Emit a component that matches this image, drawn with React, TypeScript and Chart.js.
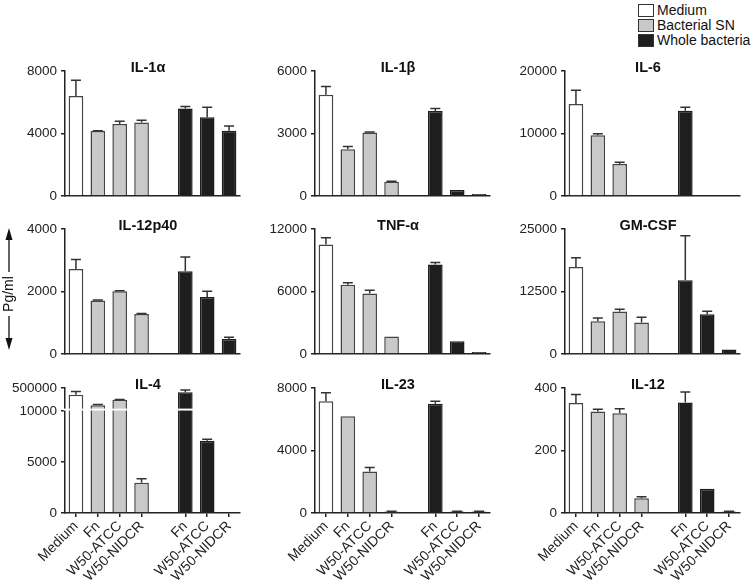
import React, { useEffect, useRef } from 'react';
import { Chart, registerables } from 'chart.js';

Chart.register(...registerables);

const FONT = "'Liberation Sans', Arial, Helvetica, sans-serif";
Chart.defaults.font.family = FONT;

// ---------- data ----------
const categories = ['Medium', 'Fn', 'W50-ATCC', 'W50-NIDCR', '', 'Fn', 'W50-ATCC', 'W50-NIDCR'];
const groupOf = ['Medium', 'Bacterial SN', 'Bacterial SN', 'Bacterial SN', '', 'Whole bacteria', 'Whole bacteria', 'Whole bacteria'];
const groupNames = ['Medium', 'Bacterial SN', 'Whole bacteria'];

const il1aMean = [6400, 4150, 4600, 4700, null, 5600, 5030, 4180];
const il1aErr = [1000, 20, 180, 150, null, 120, 650, 300];
const il1aTicks = [0, 4000, 8000];

const il1bMean = [4860, 2240, 3040, 680, null, 4080, 280, 90];
const il1bErr = [390, 130, 30, 20, null, 120, 0, 0];
const il1bTicks = [0, 3000, 6000];

const il6Mean = [14700, 9700, 5100, 0, null, 13650, 0, 0];
const il6Err = [2200, 270, 270, 0, null, 530, 0, 0];
const il6Ticks = [0, 10000, 20000];

const il12p40Mean = [2720, 1710, 2010, 1280, null, 2650, 1820, 480];
const il12p40Err = [300, 15, 15, 15, null, 450, 190, 50];
const il12p40Ticks = [0, 2000, 4000];

const tnfMean = [10500, 6650, 5800, 1660, null, 8580, 1220, 190];
const tnfErr = [670, 190, 320, 0, null, 190, 0, 0];
const tnfTicks = [0, 6000, 12000];

const gmcsfMean = [17400, 6530, 8470, 6270, null, 14730, 7930, 870];
const gmcsfErr = [1870, 670, 470, 1070, null, 8930, 600, 0];
const gmcsfTicks = [0, 12500, 25000];

const il4Mean = [335000, 87000, 220000, 2970, null, 400000, 7090, 0];
const il4Err = [80000, 15000, 5000, 390, null, 53000, 130, 0];
const il4Ticks = [0, 5000, 10000, 500000];

const il23Mean = [7150, 6190, 2650, 100, null, 7000, 90, 90];
const il23Err = [550, 0, 260, 20, null, 150, 15, 15];
const il23Ticks = [0, 4000, 8000];

const il12Mean = [352, 325, 319, 47, null, 354, 78, 5];
const il12Err = [27, 7, 15, 5, null, 33, 0, 1];
const il12Ticks = [0, 200, 400];

// broken axis for IL-4: linear up to 10000, compressed 10000..500000 segment above a gap
const BREAK_LOW = 10000;
const BREAK_TOP = 500000;
const SEG_START = 10250;
const SEG_SPAN = 2000;
const identity = (v: number) => v;
const brokenT = (v: number) =>
  v <= BREAK_LOW ? v : SEG_START + ((v - BREAK_LOW) / (BREAK_TOP - BREAK_LOW)) * SEG_SPAN;

type Panel = {
  title: string;
  mean: (number | null)[];
  err: (number | null)[];
  ticks: number[];
  broken?: boolean;
};

const panels: Panel[] = [
  { title: 'IL-1α', mean: il1aMean, err: il1aErr, ticks: il1aTicks },
  { title: 'IL-1β', mean: il1bMean, err: il1bErr, ticks: il1bTicks },
  { title: 'IL-6', mean: il6Mean, err: il6Err, ticks: il6Ticks },
  { title: 'IL-12p40', mean: il12p40Mean, err: il12p40Err, ticks: il12p40Ticks },
  { title: 'TNF-α', mean: tnfMean, err: tnfErr, ticks: tnfTicks },
  { title: 'GM-CSF', mean: gmcsfMean, err: gmcsfErr, ticks: gmcsfTicks },
  { title: 'IL-4', mean: il4Mean, err: il4Err, ticks: il4Ticks, broken: true },
  { title: 'IL-23', mean: il23Mean, err: il23Err, ticks: il23Ticks },
  { title: 'IL-12', mean: il12Mean, err: il12Err, ticks: il12Ticks },
];

// ---------- layout / style ----------
const colLeft = [65, 315, 565];
const rowTop = [71, 229, 388];
const PLOT_W = 175;
const PLOT_H = 125;
const Y_W = 60;
const PAD_TOP = 22;
const PAD_RIGHT = 12;
const fills = ['#ffffff', '#c9c9c9', '#1e1e1e'];
const borders = ['#444444', '#444444', '#1e1e1e'];
const INK = '#222222';

function PanelChart({ panel, row, col }: { panel: Panel; row: number; col: number }) {
  const ref = useRef<HTMLCanvasElement | null>(null);
  const bottomRow = row === 2;
  const xh = bottomRow ? 74 : 12;
  const left = colLeft[col] - Y_W;
  const top = rowTop[row] - PAD_TOP;
  const width = Y_W + PLOT_W + PAD_RIGHT;
  const height = PAD_TOP + PLOT_H + xh;

  useEffect(() => {
    if (!ref.current) return;
    const tf = panel.broken ? brokenT : identity;
    const datasets = groupNames.map((g, gi) => ({
      label: g,
      data: panel.mean.map((v, i) => (groupOf[i] === g && v != null ? tf(v) : null)),
      backgroundColor: fills[gi],
      borderColor: borders[gi],
      borderWidth: 1.5,
      borderSkipped: 'start' as const,
      grouped: false,
      barPercentage: 0.67,
      categoryPercentage: 1,
    }));

    const errPlugin = {
      id: 'errbars',
      afterDatasetsDraw(chart: any) {
        const ctx = chart.ctx;
        const ys = chart.scales.y;
        ctx.save();
        ctx.strokeStyle = '#333333';
        ctx.lineWidth = 1.5;
        chart.data.datasets.forEach((ds: any, di: number) => {
          const meta = chart.getDatasetMeta(di);
          meta.data.forEach((el: any, i: number) => {
            if (ds.data[i] == null) return;
            const e = panel.err[i];
            const m = panel.mean[i];
            if (!e || m == null) return;
            const yTop = ys.getPixelForValue(tf(m + e));
            ctx.beginPath();
            ctx.moveTo(el.x, el.y);
            ctx.lineTo(el.x, yTop);
            ctx.moveTo(el.x - 5, yTop);
            ctx.lineTo(el.x + 5, yTop);
            ctx.stroke();
          });
        });
        ctx.restore();
      },
    };

    const breakPlugin = {
      id: 'axisbreak',
      afterDatasetsDraw(chart: any) {
        if (!panel.broken) return;
        const ctx = chart.ctx;
        const ys = chart.scales.y;
        const a = chart.chartArea;
        const y1 = ys.getPixelForValue(SEG_START - 20);
        const y2 = ys.getPixelForValue(BREAK_LOW + 40);
        ctx.save();
        ctx.fillStyle = '#ffffff';
        ctx.fillRect(a.left - 1.5, y1, a.right - a.left + 1.5, y2 - y1);
        ctx.restore();
      },
    };

    const titlePlugin = {
      id: 'paneltitle',
      afterDraw(chart: any) {
        const ctx = chart.ctx;
        const a = chart.chartArea;
        ctx.save();
        ctx.font = `bold 14.5px ${FONT}`;
        ctx.fillStyle = '#111111';
        ctx.textAlign = 'center';
        ctx.textBaseline = 'middle';
        ctx.fillText(panel.title, a.left + 83, a.top - 3);
        ctx.restore();
      },
    };

    const chart = new Chart(ref.current, {
      type: 'bar',
      data: { labels: categories, datasets: datasets as any },
      options: {
        animation: false,
        responsive: false,
        devicePixelRatio: 1,
        layout: { padding: { top: PAD_TOP, right: PAD_RIGHT, left: 0, bottom: 0 } },
        plugins: { legend: { display: false }, tooltip: { enabled: false }, title: { display: false } },
        scales: {
          x: {
            type: 'category',
            offset: true,
            grid: {
              display: true,
              drawOnChartArea: false,
              drawTicks: bottomRow,
              tickLength: 4,
              offset: false,
              lineWidth: 1.5,
              color: (c: any) => (c.index === 4 ? 'rgba(0,0,0,0)' : INK),
            },
            border: { display: true, color: INK, width: 1.5 },
            ticks: {
              display: bottomRow,
              autoSkip: false,
              maxRotation: 45,
              minRotation: 45,
              padding: 1,
              color: INK,
              font: { size: 14, family: FONT },
            },
            afterFit: (s: any) => {
              s.height = xh;
            },
          },
          y: {
            type: 'linear',
            min: 0,
            max: tf(panel.ticks[panel.ticks.length - 1]),
            afterBuildTicks: (s: any) => {
              s.ticks = panel.ticks.map((v) => ({ value: tf(v) }));
            },
            afterFit: (s: any) => {
              s.width = Y_W;
            },
            grid: {
              display: true,
              drawOnChartArea: false,
              drawTicks: true,
              tickLength: 4,
              lineWidth: 1.5,
              color: INK,
            },
            border: { display: true, color: INK, width: 1.5 },
            ticks: {
              padding: 4,
              color: INK,
              font: { size: 13.5, family: FONT },
              callback: (_v: any, idx: number) => String(panel.ticks[idx]),
            },
          },
        },
      },
      plugins: [errPlugin, breakPlugin, titlePlugin],
    });
    return () => chart.destroy();
  }, [panel, row, col]);

  return (
    <canvas
      ref={ref}
      width={width}
      height={height}
      style={{ position: 'absolute', left, top, width, height }}
    />
  );
}

function Legend() {
  return (
    <div style={{ position: 'absolute', left: 638, top: 3, fontFamily: FONT, fontSize: 14, color: '#111' }}>
      {groupNames.map((g, i) => (
        <div key={g} style={{ display: 'flex', alignItems: 'center', height: 15 }}>
          <span
            style={{
              display: 'inline-block',
              width: 14,
              height: 11,
              background: fills[i],
              border: '1px solid #333',
              marginRight: 3,
            }}
          />
          <span style={{ lineHeight: '15px' }}>{g}</span>
        </div>
      ))}
    </div>
  );
}

function UnitLabel() {
  return (
    <svg style={{ position: 'absolute', left: 0, top: 220, overflow: 'visible' }} width={20} height={140}>
      <line x1={9} y1={14} x2={9} y2={52} stroke="#111" strokeWidth={1.3} />
      <polygon points="9,8 5.5,20 12.5,20" fill="#111" />
      <line x1={9} y1={96} x2={9} y2={124} stroke="#111" strokeWidth={1.3} />
      <polygon points="9,130 5.5,118 12.5,118" fill="#111" />
      <text
        x={0}
        y={0}
        transform="translate(13,74) rotate(-90)"
        textAnchor="middle"
        fontFamily={FONT}
        fontSize={14}
        fill="#111"
      >
        Pg/ml
      </text>
    </svg>
  );
}

export default function App() {
  return (
    <div style={{ position: 'absolute', left: 0, top: 0, width: 754, height: 587, background: '#fff', overflow: 'hidden' }}>
      {panels.map((p, i) => (
        <PanelChart key={p.title} panel={p} row={Math.floor(i / 3)} col={i % 3} />
      ))}
      <Legend />
      <UnitLabel />
    </div>
  );
}
